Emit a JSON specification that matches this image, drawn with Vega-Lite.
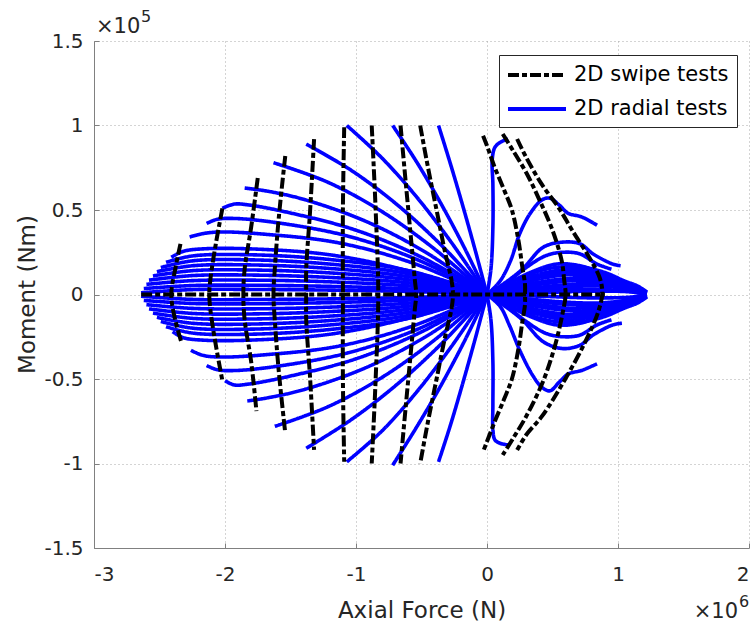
{
"$schema":"https://vega.github.io/schema/vega-lite/v6.json",
"width":655,"height":507,
"autosize":{"type":"none"},
"padding":{"left":94,"top":41,"right":3,"bottom":77},
"background":"white",
"config":{"view":{"stroke":null},"font":"DejaVu Sans"},
"data":{"values":[
{"s":"R","c":"a1","x":0,"y":0},{"s":"R","c":"a1","x":-0.0925,"y":0.269},{"s":"R","c":"a1","x":-0.185,"y":0.525},{"s":"R","c":"a1","x":-0.2775,"y":0.769},{"s":"R","c":"a1","x":-0.37,"y":1.0},
{"s":"R","c":"a2","x":0,"y":0},{"s":"R","c":"a2","x":-0.18,"y":0.288},{"s":"R","c":"a2","x":-0.36,"y":0.55},{"s":"R","c":"a2","x":-0.54,"y":0.788},{"s":"R","c":"a2","x":-0.72,"y":1.0},
{"s":"R","c":"a3","x":0,"y":0},{"s":"R","c":"a3","x":-0.27,"y":0.306},{"s":"R","c":"a3","x":-0.535,"y":0.575},{"s":"R","c":"a3","x":-0.8,"y":0.806},{"s":"R","c":"a3","x":-1.07,"y":1.0},
{"s":"R","c":"a4","x":0,"y":0},{"s":"R","c":"a4","x":-0.345,"y":0.289},{"s":"R","c":"a4","x":-0.69,"y":0.534},{"s":"R","c":"a4","x":-1.035,"y":0.734},{"s":"R","c":"a4","x":-1.38,"y":0.89},
{"s":"R","c":"a5","x":0,"y":0},{"s":"R","c":"a5","x":-0.41,"y":0.275},{"s":"R","c":"a5","x":-0.815,"y":0.497},{"s":"R","c":"a5","x":-1.22,"y":0.666},{"s":"R","c":"a5","x":-1.63,"y":0.78},
{"s":"R","c":"a6","x":0,"y":0},{"s":"R","c":"a6","x":-0.46,"y":0.246},{"s":"R","c":"a6","x":-0.925,"y":0.433},{"s":"R","c":"a6","x":-1.39,"y":0.561},{"s":"R","c":"a6","x":-1.665,"y":0.61},{"s":"R","c":"a6","x":-1.85,"y":0.63},
{"s":"R","c":"a7","x":0,"y":0},{"s":"R","c":"a7","x":-0.505,"y":0.223},{"s":"R","c":"a7","x":-1.01,"y":0.383},{"s":"R","c":"a7","x":-1.515,"y":0.485},{"s":"R","c":"a7","x":-1.82,"y":0.53},{"s":"R","c":"a7","x":-1.93,"y":0.535},{"s":"R","c":"a7","x":-2.02,"y":0.51},
{"s":"R","c":"a8","x":0,"y":0},{"s":"R","c":"a8","x":-0.535,"y":0.207},{"s":"R","c":"a8","x":-1.07,"y":0.347},{"s":"R","c":"a8","x":-1.605,"y":0.425},{"s":"R","c":"a8","x":-1.93,"y":0.45},{"s":"R","c":"a8","x":-2.06,"y":0.445},{"s":"R","c":"a8","x":-2.14,"y":0.42},
{"s":"R","c":"a9","x":0,"y":0},{"s":"R","c":"a9","x":-0.57,"y":0.187},{"s":"R","c":"a9","x":-1.135,"y":0.306},{"s":"R","c":"a9","x":-1.7,"y":0.357},{"s":"R","c":"a9","x":-2.04,"y":0.37},{"s":"R","c":"a9","x":-2.17,"y":0.36},{"s":"R","c":"a9","x":-2.27,"y":0.34},
{"s":"R","c":"a10","x":0,"y":0},{"s":"R","c":"a10","x":-0.6,"y":0.14},{"s":"R","c":"a10","x":-1.2,"y":0.235},{"s":"R","c":"a10","x":-1.81,"y":0.27},{"s":"R","c":"a10","x":-2.17,"y":0.27},{"s":"R","c":"a10","x":-2.32,"y":0.255},{"s":"R","c":"a10","x":-2.41,"y":0.22},
{"s":"R","c":"a11","x":0,"y":0},{"s":"R","c":"a11","x":-0.6,"y":0.141},{"s":"R","c":"a11","x":-1.2,"y":0.207},{"s":"R","c":"a11","x":-1.8,"y":0.235},{"s":"R","c":"a11","x":-2.25,"y":0.228},{"s":"R","c":"a11","x":-2.45,"y":0.19},
{"s":"R","c":"a12","x":0,"y":0},{"s":"R","c":"a12","x":-0.6,"y":0.123},{"s":"R","c":"a12","x":-1.2,"y":0.18},{"s":"R","c":"a12","x":-1.8,"y":0.205},{"s":"R","c":"a12","x":-2.25,"y":0.199},{"s":"R","c":"a12","x":-2.49,"y":0.16},
{"s":"R","c":"a13","x":0,"y":0},{"s":"R","c":"a13","x":-0.6,"y":0.105},{"s":"R","c":"a13","x":-1.2,"y":0.154},{"s":"R","c":"a13","x":-1.8,"y":0.175},{"s":"R","c":"a13","x":-2.25,"y":0.17},{"s":"R","c":"a13","x":-2.52,"y":0.135},
{"s":"R","c":"a14","x":0,"y":0},{"s":"R","c":"a14","x":-0.6,"y":0.087},{"s":"R","c":"a14","x":-1.2,"y":0.128},{"s":"R","c":"a14","x":-1.8,"y":0.145},{"s":"R","c":"a14","x":-2.25,"y":0.141},{"s":"R","c":"a14","x":-2.55,"y":0.11},
{"s":"R","c":"a15","x":0,"y":0},{"s":"R","c":"a15","x":-0.6,"y":0.069},{"s":"R","c":"a15","x":-1.2,"y":0.101},{"s":"R","c":"a15","x":-1.8,"y":0.115},{"s":"R","c":"a15","x":-2.25,"y":0.112},{"s":"R","c":"a15","x":-2.58,"y":0.085},
{"s":"R","c":"a16","x":0,"y":0},{"s":"R","c":"a16","x":-0.6,"y":0.051},{"s":"R","c":"a16","x":-1.2,"y":0.075},{"s":"R","c":"a16","x":-1.8,"y":0.085},{"s":"R","c":"a16","x":-2.25,"y":0.082},{"s":"R","c":"a16","x":-2.6,"y":0.06},
{"s":"R","c":"a17","x":0,"y":0},{"s":"R","c":"a17","x":-0.6,"y":0.033},{"s":"R","c":"a17","x":-1.2,"y":0.048},{"s":"R","c":"a17","x":-1.8,"y":0.055},{"s":"R","c":"a17","x":-2.25,"y":0.053},{"s":"R","c":"a17","x":-2.62,"y":0.035},
{"s":"R","c":"a18","x":0,"y":0},{"s":"R","c":"a18","x":-0.6,"y":0.018},{"s":"R","c":"a18","x":-1.2,"y":0.026},{"s":"R","c":"a18","x":-1.8,"y":0.03},{"s":"R","c":"a18","x":-2.25,"y":0.029},{"s":"R","c":"a18","x":-2.64,"y":0.01},
{"s":"R","c":"b1","x":0,"y":0},{"s":"R","c":"b1","x":-0.0925,"y":-0.269},{"s":"R","c":"b1","x":-0.185,"y":-0.525},{"s":"R","c":"b1","x":-0.2775,"y":-0.769},{"s":"R","c":"b1","x":-0.37,"y":-0.99},
{"s":"R","c":"b2","x":0,"y":0},{"s":"R","c":"b2","x":-0.18,"y":-0.288},{"s":"R","c":"b2","x":-0.36,"y":-0.55},{"s":"R","c":"b2","x":-0.54,"y":-0.788},{"s":"R","c":"b2","x":-0.72,"y":-1.01},
{"s":"R","c":"b3","x":0,"y":0},{"s":"R","c":"b3","x":-0.27,"y":-0.306},{"s":"R","c":"b3","x":-0.535,"y":-0.575},{"s":"R","c":"b3","x":-0.8,"y":-0.806},{"s":"R","c":"b3","x":-1.07,"y":-0.99},
{"s":"R","c":"b4","x":0,"y":0},{"s":"R","c":"b4","x":-0.345,"y":-0.289},{"s":"R","c":"b4","x":-0.69,"y":-0.534},{"s":"R","c":"b4","x":-1.035,"y":-0.74},{"s":"R","c":"b4","x":-1.38,"y":-0.91},
{"s":"R","c":"b5","x":0,"y":0},{"s":"R","c":"b5","x":-0.41,"y":-0.275},{"s":"R","c":"b5","x":-0.815,"y":-0.497},{"s":"R","c":"b5","x":-1.22,"y":-0.666},{"s":"R","c":"b5","x":-1.62,"y":-0.78},
{"s":"R","c":"b6","x":0,"y":0},{"s":"R","c":"b6","x":-0.46,"y":-0.246},{"s":"R","c":"b6","x":-0.925,"y":-0.433},{"s":"R","c":"b6","x":-1.39,"y":-0.561},{"s":"R","c":"b6","x":-1.665,"y":-0.61},{"s":"R","c":"b6","x":-1.83,"y":-0.63},
{"s":"R","c":"b7","x":0,"y":0},{"s":"R","c":"b7","x":-0.505,"y":-0.223},{"s":"R","c":"b7","x":-1.01,"y":-0.383},{"s":"R","c":"b7","x":-1.515,"y":-0.485},{"s":"R","c":"b7","x":-1.82,"y":-0.53},{"s":"R","c":"b7","x":-1.93,"y":-0.535},{"s":"R","c":"b7","x":-2.0,"y":-0.51},
{"s":"R","c":"b8","x":0,"y":0},{"s":"R","c":"b8","x":-0.535,"y":-0.207},{"s":"R","c":"b8","x":-1.07,"y":-0.347},{"s":"R","c":"b8","x":-1.605,"y":-0.425},{"s":"R","c":"b8","x":-1.93,"y":-0.45},{"s":"R","c":"b8","x":-2.06,"y":-0.445},{"s":"R","c":"b8","x":-2.14,"y":-0.42},
{"s":"R","c":"b9","x":0,"y":0},{"s":"R","c":"b9","x":-0.57,"y":-0.187},{"s":"R","c":"b9","x":-1.135,"y":-0.306},{"s":"R","c":"b9","x":-1.7,"y":-0.357},{"s":"R","c":"b9","x":-2.04,"y":-0.37},{"s":"R","c":"b9","x":-2.17,"y":-0.36},{"s":"R","c":"b9","x":-2.26,"y":-0.33},
{"s":"R","c":"b10","x":0,"y":0},{"s":"R","c":"b10","x":-0.6,"y":-0.14},{"s":"R","c":"b10","x":-1.2,"y":-0.235},{"s":"R","c":"b10","x":-1.81,"y":-0.27},{"s":"R","c":"b10","x":-2.17,"y":-0.27},{"s":"R","c":"b10","x":-2.32,"y":-0.255},{"s":"R","c":"b10","x":-2.4,"y":-0.22},
{"s":"R","c":"b11","x":0,"y":0},{"s":"R","c":"b11","x":-0.6,"y":-0.141},{"s":"R","c":"b11","x":-1.2,"y":-0.207},{"s":"R","c":"b11","x":-1.8,"y":-0.235},{"s":"R","c":"b11","x":-2.25,"y":-0.228},{"s":"R","c":"b11","x":-2.45,"y":-0.19},
{"s":"R","c":"b12","x":0,"y":0},{"s":"R","c":"b12","x":-0.6,"y":-0.123},{"s":"R","c":"b12","x":-1.2,"y":-0.18},{"s":"R","c":"b12","x":-1.8,"y":-0.205},{"s":"R","c":"b12","x":-2.25,"y":-0.199},{"s":"R","c":"b12","x":-2.49,"y":-0.16},
{"s":"R","c":"b13","x":0,"y":0},{"s":"R","c":"b13","x":-0.6,"y":-0.105},{"s":"R","c":"b13","x":-1.2,"y":-0.154},{"s":"R","c":"b13","x":-1.8,"y":-0.175},{"s":"R","c":"b13","x":-2.25,"y":-0.17},{"s":"R","c":"b13","x":-2.52,"y":-0.135},
{"s":"R","c":"b14","x":0,"y":0},{"s":"R","c":"b14","x":-0.6,"y":-0.087},{"s":"R","c":"b14","x":-1.2,"y":-0.128},{"s":"R","c":"b14","x":-1.8,"y":-0.145},{"s":"R","c":"b14","x":-2.25,"y":-0.141},{"s":"R","c":"b14","x":-2.55,"y":-0.11},
{"s":"R","c":"b15","x":0,"y":0},{"s":"R","c":"b15","x":-0.6,"y":-0.069},{"s":"R","c":"b15","x":-1.2,"y":-0.101},{"s":"R","c":"b15","x":-1.8,"y":-0.115},{"s":"R","c":"b15","x":-2.25,"y":-0.112},{"s":"R","c":"b15","x":-2.58,"y":-0.085},
{"s":"R","c":"b16","x":0,"y":0},{"s":"R","c":"b16","x":-0.6,"y":-0.051},{"s":"R","c":"b16","x":-1.2,"y":-0.075},{"s":"R","c":"b16","x":-1.8,"y":-0.085},{"s":"R","c":"b16","x":-2.25,"y":-0.082},{"s":"R","c":"b16","x":-2.6,"y":-0.06},
{"s":"R","c":"b17","x":0,"y":0},{"s":"R","c":"b17","x":-0.6,"y":-0.033},{"s":"R","c":"b17","x":-1.2,"y":-0.048},{"s":"R","c":"b17","x":-1.8,"y":-0.055},{"s":"R","c":"b17","x":-2.25,"y":-0.053},{"s":"R","c":"b17","x":-2.62,"y":-0.035},
{"s":"R","c":"b18","x":0,"y":0},{"s":"R","c":"b18","x":-0.6,"y":-0.018},{"s":"R","c":"b18","x":-1.2,"y":-0.026},{"s":"R","c":"b18","x":-1.8,"y":-0.03},{"s":"R","c":"b18","x":-2.25,"y":-0.029},{"s":"R","c":"b18","x":-2.64,"y":-0.01},
{"s":"R","c":"c1","x":0,"y":0},{"s":"R","c":"c1","x":0.03,"y":0.15},{"s":"R","c":"c1","x":0.045,"y":0.4},{"s":"R","c":"c1","x":0.045,"y":0.65},{"s":"R","c":"c1","x":0.04,"y":0.8},{"s":"R","c":"c1","x":0.06,"y":0.87},{"s":"R","c":"c1","x":0.1,"y":0.9},{"s":"R","c":"c1","x":0.16,"y":0.92},
{"s":"R","c":"c2","x":0,"y":0},{"s":"R","c":"c2","x":0.1,"y":0.08},{"s":"R","c":"c2","x":0.18,"y":0.2},{"s":"R","c":"c2","x":0.25,"y":0.36},{"s":"R","c":"c2","x":0.33,"y":0.48},{"s":"R","c":"c2","x":0.42,"y":0.56},{"s":"R","c":"c2","x":0.48,"y":0.57},{"s":"R","c":"c2","x":0.55,"y":0.53},{"s":"R","c":"c2","x":0.62,"y":0.48},{"s":"R","c":"c2","x":0.72,"y":0.46},{"s":"R","c":"c2","x":0.84,"y":0.41},
{"s":"R","c":"c3","x":0,"y":0},{"s":"R","c":"c3","x":0.12,"y":0.06},{"s":"R","c":"c3","x":0.27,"y":0.15},{"s":"R","c":"c3","x":0.43,"y":0.28},{"s":"R","c":"c3","x":0.58,"y":0.31},{"s":"R","c":"c3","x":0.71,"y":0.3},{"s":"R","c":"c3","x":0.81,"y":0.24},{"s":"R","c":"c3","x":0.96,"y":0.18},{"s":"R","c":"c3","x":1.02,"y":0.17},
{"s":"R","c":"c4","x":0,"y":0},{"s":"R","c":"c4","x":0.15,"y":0.07},{"s":"R","c":"c4","x":0.3,"y":0.16},{"s":"R","c":"c4","x":0.45,"y":0.23},{"s":"R","c":"c4","x":0.58,"y":0.25},{"s":"R","c":"c4","x":0.71,"y":0.24},{"s":"R","c":"c4","x":0.84,"y":0.18},{"s":"R","c":"c4","x":0.95,"y":0.15},
{"s":"R","c":"c5","x":0,"y":0},{"s":"R","c":"c5","x":0.15,"y":0.06},{"s":"R","c":"c5","x":0.33,"y":0.13},{"s":"R","c":"c5","x":0.53,"y":0.18},{"s":"R","c":"c5","x":0.71,"y":0.17},{"s":"R","c":"c5","x":0.86,"y":0.13},{"s":"R","c":"c5","x":1.0,"y":0.09},{"s":"R","c":"c5","x":1.1,"y":0.06},
{"s":"R","c":"c6","x":0,"y":0},{"s":"R","c":"c6","x":0.2,"y":0.07},{"s":"R","c":"c6","x":0.45,"y":0.13},{"s":"R","c":"c6","x":0.7,"y":0.15},{"s":"R","c":"c6","x":0.9,"y":0.11},{"s":"R","c":"c6","x":1.05,"y":0.07},{"s":"R","c":"c6","x":1.15,"y":0.04},{"s":"R","c":"c6","x":1.22,"y":0.01},
{"s":"R","c":"c7","x":0,"y":0},{"s":"R","c":"c7","x":0.2,"y":0.05},{"s":"R","c":"c7","x":0.45,"y":0.1},{"s":"R","c":"c7","x":0.7,"y":0.12},{"s":"R","c":"c7","x":0.9,"y":0.09},{"s":"R","c":"c7","x":1.05,"y":0.06},{"s":"R","c":"c7","x":1.2,"y":0.02},
{"s":"R","c":"c8","x":0,"y":0},{"s":"R","c":"c8","x":0.25,"y":0.04},{"s":"R","c":"c8","x":0.5,"y":0.07},{"s":"R","c":"c8","x":0.75,"y":0.085},{"s":"R","c":"c8","x":0.95,"y":0.065},{"s":"R","c":"c8","x":1.1,"y":0.04},{"s":"R","c":"c8","x":1.22,"y":0.01},
{"s":"R","c":"c9","x":0,"y":0},{"s":"R","c":"c9","x":0.3,"y":0.025},{"s":"R","c":"c9","x":0.6,"y":0.045},{"s":"R","c":"c9","x":0.85,"y":0.05},{"s":"R","c":"c9","x":1.05,"y":0.035},{"s":"R","c":"c9","x":1.2,"y":0.01},
{"s":"R","c":"c10","x":0,"y":0},{"s":"R","c":"c10","x":0.4,"y":0.01},{"s":"R","c":"c10","x":0.8,"y":0.02},{"s":"R","c":"c10","x":1.1,"y":0.015},{"s":"R","c":"c10","x":1.22,"y":0},
{"s":"R","c":"c11","x":0,"y":0},{"s":"R","c":"c11","x":0.2,"y":0.08},{"s":"R","c":"c11","x":0.45,"y":0.15},{"s":"R","c":"c11","x":0.7,"y":0.165},{"s":"R","c":"c11","x":0.9,"y":0.13},{"s":"R","c":"c11","x":1.05,"y":0.08},{"s":"R","c":"c11","x":1.15,"y":0.05},{"s":"R","c":"c11","x":1.22,"y":0.015},
{"s":"R","c":"c12","x":0,"y":0},{"s":"R","c":"c12","x":0.2,"y":0.06},{"s":"R","c":"c12","x":0.45,"y":0.115},{"s":"R","c":"c12","x":0.7,"y":0.135},{"s":"R","c":"c12","x":0.9,"y":0.1},{"s":"R","c":"c12","x":1.05,"y":0.065},{"s":"R","c":"c12","x":1.2,"y":0.025},
{"s":"R","c":"c13","x":0,"y":0},{"s":"R","c":"c13","x":0.22,"y":0.045},{"s":"R","c":"c13","x":0.5,"y":0.085},{"s":"R","c":"c13","x":0.75,"y":0.1},{"s":"R","c":"c13","x":0.95,"y":0.08},{"s":"R","c":"c13","x":1.1,"y":0.05},{"s":"R","c":"c13","x":1.22,"y":0.015},
{"s":"R","c":"c14","x":0,"y":0},{"s":"R","c":"c14","x":0.28,"y":0.03},{"s":"R","c":"c14","x":0.55,"y":0.055},{"s":"R","c":"c14","x":0.8,"y":0.065},{"s":"R","c":"c14","x":1.0,"y":0.05},{"s":"R","c":"c14","x":1.15,"y":0.025},{"s":"R","c":"c14","x":1.22,"y":0.005},
{"s":"R","c":"c15","x":0,"y":0},{"s":"R","c":"c15","x":0.35,"y":0.015},{"s":"R","c":"c15","x":0.7,"y":0.03},{"s":"R","c":"c15","x":1.0,"y":0.025},{"s":"R","c":"c15","x":1.2,"y":0.008},
{"s":"R","c":"d1","x":0,"y":0},{"s":"R","c":"d1","x":0.03,"y":-0.15},{"s":"R","c":"d1","x":0.045,"y":-0.4},{"s":"R","c":"d1","x":0.045,"y":-0.65},{"s":"R","c":"d1","x":0.045,"y":-0.8},{"s":"R","c":"d1","x":0.06,"y":-0.86},{"s":"R","c":"d1","x":0.1,"y":-0.88},{"s":"R","c":"d1","x":0.16,"y":-0.89},
{"s":"R","c":"d2","x":0,"y":0},{"s":"R","c":"d2","x":0.1,"y":-0.07},{"s":"R","c":"d2","x":0.17,"y":-0.18},{"s":"R","c":"d2","x":0.25,"y":-0.33},{"s":"R","c":"d2","x":0.35,"y":-0.48},{"s":"R","c":"d2","x":0.42,"y":-0.55},{"s":"R","c":"d2","x":0.48,"y":-0.57},{"s":"R","c":"d2","x":0.55,"y":-0.52},{"s":"R","c":"d2","x":0.62,"y":-0.47},{"s":"R","c":"d2","x":0.72,"y":-0.45},{"s":"R","c":"d2","x":0.84,"y":-0.41},
{"s":"R","c":"d3","x":0,"y":0},{"s":"R","c":"d3","x":0.12,"y":-0.06},{"s":"R","c":"d3","x":0.27,"y":-0.15},{"s":"R","c":"d3","x":0.43,"y":-0.28},{"s":"R","c":"d3","x":0.58,"y":-0.32},{"s":"R","c":"d3","x":0.71,"y":-0.3},{"s":"R","c":"d3","x":0.81,"y":-0.24},{"s":"R","c":"d3","x":0.96,"y":-0.18},{"s":"R","c":"d3","x":1.03,"y":-0.17},
{"s":"R","c":"d4","x":0,"y":0},{"s":"R","c":"d4","x":0.15,"y":-0.07},{"s":"R","c":"d4","x":0.3,"y":-0.16},{"s":"R","c":"d4","x":0.45,"y":-0.23},{"s":"R","c":"d4","x":0.58,"y":-0.25},{"s":"R","c":"d4","x":0.71,"y":-0.24},{"s":"R","c":"d4","x":0.84,"y":-0.18},{"s":"R","c":"d4","x":0.95,"y":-0.15},
{"s":"R","c":"d5","x":0,"y":0},{"s":"R","c":"d5","x":0.15,"y":-0.06},{"s":"R","c":"d5","x":0.33,"y":-0.13},{"s":"R","c":"d5","x":0.53,"y":-0.18},{"s":"R","c":"d5","x":0.71,"y":-0.17},{"s":"R","c":"d5","x":0.86,"y":-0.13},{"s":"R","c":"d5","x":1.0,"y":-0.09},{"s":"R","c":"d5","x":1.1,"y":-0.06},
{"s":"R","c":"d6","x":0,"y":0},{"s":"R","c":"d6","x":0.2,"y":-0.07},{"s":"R","c":"d6","x":0.45,"y":-0.13},{"s":"R","c":"d6","x":0.7,"y":-0.15},{"s":"R","c":"d6","x":0.9,"y":-0.11},{"s":"R","c":"d6","x":1.05,"y":-0.07},{"s":"R","c":"d6","x":1.15,"y":-0.04},{"s":"R","c":"d6","x":1.22,"y":-0.01},
{"s":"R","c":"d7","x":0,"y":0},{"s":"R","c":"d7","x":0.2,"y":-0.05},{"s":"R","c":"d7","x":0.45,"y":-0.1},{"s":"R","c":"d7","x":0.7,"y":-0.12},{"s":"R","c":"d7","x":0.9,"y":-0.09},{"s":"R","c":"d7","x":1.05,"y":-0.06},{"s":"R","c":"d7","x":1.2,"y":-0.02},
{"s":"R","c":"d8","x":0,"y":0},{"s":"R","c":"d8","x":0.25,"y":-0.04},{"s":"R","c":"d8","x":0.5,"y":-0.07},{"s":"R","c":"d8","x":0.75,"y":-0.085},{"s":"R","c":"d8","x":0.95,"y":-0.065},{"s":"R","c":"d8","x":1.1,"y":-0.04},{"s":"R","c":"d8","x":1.22,"y":-0.01},
{"s":"R","c":"d9","x":0,"y":0},{"s":"R","c":"d9","x":0.3,"y":-0.025},{"s":"R","c":"d9","x":0.6,"y":-0.045},{"s":"R","c":"d9","x":0.85,"y":-0.05},{"s":"R","c":"d9","x":1.05,"y":-0.035},{"s":"R","c":"d9","x":1.2,"y":-0.01},
{"s":"R","c":"d10","x":0,"y":0},{"s":"R","c":"d10","x":0.4,"y":-0.01},{"s":"R","c":"d10","x":0.8,"y":-0.02},{"s":"R","c":"d10","x":1.1,"y":-0.015},{"s":"R","c":"d10","x":1.22,"y":0},
{"s":"R","c":"d11","x":0,"y":0},{"s":"R","c":"d11","x":0.2,"y":-0.08},{"s":"R","c":"d11","x":0.45,"y":-0.15},{"s":"R","c":"d11","x":0.7,"y":-0.165},{"s":"R","c":"d11","x":0.9,"y":-0.13},{"s":"R","c":"d11","x":1.05,"y":-0.08},{"s":"R","c":"d11","x":1.15,"y":-0.05},{"s":"R","c":"d11","x":1.22,"y":-0.015},
{"s":"R","c":"d12","x":0,"y":0},{"s":"R","c":"d12","x":0.2,"y":-0.06},{"s":"R","c":"d12","x":0.45,"y":-0.115},{"s":"R","c":"d12","x":0.7,"y":-0.135},{"s":"R","c":"d12","x":0.9,"y":-0.1},{"s":"R","c":"d12","x":1.05,"y":-0.065},{"s":"R","c":"d12","x":1.2,"y":-0.025},
{"s":"R","c":"d13","x":0,"y":0},{"s":"R","c":"d13","x":0.22,"y":-0.045},{"s":"R","c":"d13","x":0.5,"y":-0.085},{"s":"R","c":"d13","x":0.75,"y":-0.1},{"s":"R","c":"d13","x":0.95,"y":-0.08},{"s":"R","c":"d13","x":1.1,"y":-0.05},{"s":"R","c":"d13","x":1.22,"y":-0.015},
{"s":"R","c":"d14","x":0,"y":0},{"s":"R","c":"d14","x":0.28,"y":-0.03},{"s":"R","c":"d14","x":0.55,"y":-0.055},{"s":"R","c":"d14","x":0.8,"y":-0.065},{"s":"R","c":"d14","x":1.0,"y":-0.05},{"s":"R","c":"d14","x":1.15,"y":-0.025},{"s":"R","c":"d14","x":1.22,"y":-0.005},
{"s":"S","c":"s1","x":-2.34,"y":0.3},{"s":"S","c":"s1","x":-2.38,"y":0.15},{"s":"S","c":"s1","x":-2.41,"y":0},{"s":"S","c":"s1","x":-2.38,"y":-0.15},{"s":"S","c":"s1","x":-2.33,"y":-0.29},
{"s":"S","c":"s2","x":-2.02,"y":0.51},{"s":"S","c":"s2","x":-2.07,"y":0.3},{"s":"S","c":"s2","x":-2.11,"y":0.1},{"s":"S","c":"s2","x":-2.12,"y":0},{"s":"S","c":"s2","x":-2.11,"y":-0.1},{"s":"S","c":"s2","x":-2.07,"y":-0.3},{"s":"S","c":"s2","x":-2.02,"y":-0.51},
{"s":"S","c":"s3","x":-1.75,"y":0.69},{"s":"S","c":"s3","x":-1.8,"y":0.4},{"s":"S","c":"s3","x":-1.85,"y":0.15},{"s":"S","c":"s3","x":-1.86,"y":0},{"s":"S","c":"s3","x":-1.85,"y":-0.15},{"s":"S","c":"s3","x":-1.8,"y":-0.4},{"s":"S","c":"s3","x":-1.76,"y":-0.69},
{"s":"S","c":"s4","x":-1.54,"y":0.82},{"s":"S","c":"s4","x":-1.59,"y":0.45},{"s":"S","c":"s4","x":-1.62,"y":0.15},{"s":"S","c":"s4","x":-1.63,"y":0},{"s":"S","c":"s4","x":-1.62,"y":-0.15},{"s":"S","c":"s4","x":-1.59,"y":-0.45},{"s":"S","c":"s4","x":-1.54,"y":-0.82},
{"s":"S","c":"s5","x":-1.32,"y":0.92},{"s":"S","c":"s5","x":-1.35,"y":0.5},{"s":"S","c":"s5","x":-1.38,"y":0.15},{"s":"S","c":"s5","x":-1.38,"y":0},{"s":"S","c":"s5","x":-1.38,"y":-0.15},{"s":"S","c":"s5","x":-1.35,"y":-0.5},{"s":"S","c":"s5","x":-1.32,"y":-0.92},
{"s":"S","c":"s6","x":-1.09,"y":0.99},{"s":"S","c":"s6","x":-1.1,"y":0.5},{"s":"S","c":"s6","x":-1.1,"y":0},{"s":"S","c":"s6","x":-1.1,"y":-0.5},{"s":"S","c":"s6","x":-1.09,"y":-0.99},
{"s":"S","c":"s7","x":-0.88,"y":1.0},{"s":"S","c":"s7","x":-0.85,"y":0.5},{"s":"S","c":"s7","x":-0.83,"y":0},{"s":"S","c":"s7","x":-0.85,"y":-0.5},{"s":"S","c":"s7","x":-0.88,"y":-1.0},
{"s":"S","c":"s8","x":-0.66,"y":1.0},{"s":"S","c":"s8","x":-0.62,"y":0.66},{"s":"S","c":"s8","x":-0.58,"y":0.33},{"s":"S","c":"s8","x":-0.55,"y":0.08},{"s":"S","c":"s8","x":-0.54,"y":0},{"s":"S","c":"s8","x":-0.55,"y":-0.08},{"s":"S","c":"s8","x":-0.58,"y":-0.33},{"s":"S","c":"s8","x":-0.62,"y":-0.66},{"s":"S","c":"s8","x":-0.66,"y":-1.0},
{"s":"S","c":"s9","x":-0.51,"y":1.0},{"s":"S","c":"s9","x":-0.45,"y":0.75},{"s":"S","c":"s9","x":-0.385,"y":0.5},{"s":"S","c":"s9","x":-0.32,"y":0.25},{"s":"S","c":"s9","x":-0.27,"y":0.08},{"s":"S","c":"s9","x":-0.26,"y":0},{"s":"S","c":"s9","x":-0.27,"y":-0.08},{"s":"S","c":"s9","x":-0.32,"y":-0.25},{"s":"S","c":"s9","x":-0.385,"y":-0.5},{"s":"S","c":"s9","x":-0.45,"y":-0.75},{"s":"S","c":"s9","x":-0.51,"y":-1.0},
{"s":"S","c":"s10","x":-0.03,"y":0.94},{"s":"S","c":"s10","x":0.0,"y":0.88},{"s":"S","c":"s10","x":0.06,"y":0.75},{"s":"S","c":"s10","x":0.13,"y":0.62},{"s":"S","c":"s10","x":0.19,"y":0.5},{"s":"S","c":"s10","x":0.24,"y":0.32},{"s":"S","c":"s10","x":0.27,"y":0.16},{"s":"S","c":"s10","x":0.29,"y":0.06},{"s":"S","c":"s10","x":0.29,"y":0},{"s":"S","c":"s10","x":0.29,"y":-0.06},{"s":"S","c":"s10","x":0.27,"y":-0.16},{"s":"S","c":"s10","x":0.24,"y":-0.32},{"s":"S","c":"s10","x":0.19,"y":-0.5},{"s":"S","c":"s10","x":0.13,"y":-0.62},{"s":"S","c":"s10","x":0.06,"y":-0.75},{"s":"S","c":"s10","x":0.0,"y":-0.87},{"s":"S","c":"s10","x":-0.03,"y":-0.93},
{"s":"S","c":"s11","x":0.12,"y":0.95},{"s":"S","c":"s11","x":0.2,"y":0.85},{"s":"S","c":"s11","x":0.3,"y":0.72},{"s":"S","c":"s11","x":0.4,"y":0.56},{"s":"S","c":"s11","x":0.5,"y":0.38},{"s":"S","c":"s11","x":0.57,"y":0.2},{"s":"S","c":"s11","x":0.59,"y":0.08},{"s":"S","c":"s11","x":0.6,"y":0},{"s":"S","c":"s11","x":0.58,"y":-0.1},{"s":"S","c":"s11","x":0.52,"y":-0.3},{"s":"S","c":"s11","x":0.43,"y":-0.51},{"s":"S","c":"s11","x":0.3,"y":-0.72},{"s":"S","c":"s11","x":0.2,"y":-0.85},{"s":"S","c":"s11","x":0.12,"y":-0.95},
{"s":"S","c":"s12","x":0.23,"y":0.92},{"s":"S","c":"s12","x":0.3,"y":0.81},{"s":"S","c":"s12","x":0.42,"y":0.65},{"s":"S","c":"s12","x":0.55,"y":0.51},{"s":"S","c":"s12","x":0.65,"y":0.38},{"s":"S","c":"s12","x":0.78,"y":0.22},{"s":"S","c":"s12","x":0.86,"y":0.1},{"s":"S","c":"s12","x":0.88,"y":0.01},{"s":"S","c":"s12","x":0.85,"y":-0.1},{"s":"S","c":"s12","x":0.75,"y":-0.28},{"s":"S","c":"s12","x":0.59,"y":-0.51},{"s":"S","c":"s12","x":0.42,"y":-0.72},{"s":"S","c":"s12","x":0.3,"y":-0.83},{"s":"S","c":"s12","x":0.23,"y":-0.92},
{"s":"S","c":"s13","x":-2.64,"y":0},{"s":"S","c":"s13","x":0.9,"y":0}
]},
"encoding":{
 "x":{"field":"x","type":"quantitative","scale":{"domain":[-3,2],"nice":false,"zero":false},
  "axis":{"title":"Axial Force (N)","values":[-3,-2,-1,0,1,2],"format":"d","labelExpr":"replace(datum.label,'−','-')","grid":true,"gridDash":[1,3],"gridColor":"#a8a8a8","domainColor":"#808080","tickColor":"#808080","tickSize":-5,"labelPadding":21,"labelFontSize":20,"labelFont":"DejaVu Sans","labelColor":"#262626","titleFont":"DejaVu Sans","titleFontSize":23,"titleFontWeight":"normal","titleColor":"#262626","titleY":69,"titleBaseline":"alphabetic"}},
 "y":{"field":"y","type":"quantitative","scale":{"domain":[-1.5,1.5],"nice":false,"zero":false},
  "axis":{"title":"Moment (Nm)","values":[-1.5,-1,-0.5,0,0.5,1,1.5],"format":"~g","labelExpr":"replace(datum.label,'−','-')","grid":true,"gridDash":[1,3],"gridColor":"#a8a8a8","domainColor":"#808080","tickColor":"#808080","tickSize":-5,"labelPadding":16,"labelFontSize":20,"labelFont":"DejaVu Sans","labelColor":"#262626","titleFont":"DejaVu Sans","titleFontSize":23,"titleFontWeight":"normal","titleColor":"#262626","titleX":-60,"titleY":253,"titleAlign":"center","titleBaseline":"alphabetic"}}
},
"layer":[
 {"transform":[{"window":[{"op":"row_number","as":"k"}]},{"filter":"datum.s=='R'"}],
  "mark":{"type":"line","strokeWidth":3.6,"interpolate":"catmull-rom","clip":true},
  "encoding":{"detail":{"field":"c"},"order":{"field":"k","type":"quantitative"},
   "color":{"field":"s","type":"nominal","scale":{"domain":["S","R"],"range":["#000000","#0000ff"]},
    "legend":{"orient":"none","legendX":405,"legendY":14,"title":null,"labelExpr":"datum.label=='S'?'2D swipe tests':'2D radial tests'","symbolType":"M-1.1,0H4.7","symbolSize":400,"symbolStrokeWidth":4,"labelFontSize":21,"labelFont":"DejaVu Sans","labelColor":"#000000","labelOffset":43,"labelLimit":300,"strokeColor":"#262626","fillColor":"#ffffff","padding":8,"rowPadding":12}},
   "strokeDash":{"field":"s","type":"nominal","scale":{"domain":["S","R"],"range":[[11,3,5,3],[1,0]]},
    "legend":{"orient":"none","legendX":405,"legendY":14,"title":null,"labelExpr":"datum.label=='S'?'2D swipe tests':'2D radial tests'","symbolType":"M-1.1,0H4.7","symbolSize":400,"symbolStrokeWidth":4,"labelFontSize":21,"labelFont":"DejaVu Sans","labelColor":"#000000","labelOffset":43,"labelLimit":300,"strokeColor":"#262626","fillColor":"#ffffff","padding":8,"rowPadding":12}}}},
 {"transform":[{"window":[{"op":"row_number","as":"k"}]},{"filter":"datum.s=='S'"}],
  "mark":{"type":"line","strokeWidth":4,"interpolate":"catmull-rom","clip":true},
  "encoding":{"detail":{"field":"c"},"order":{"field":"k","type":"quantitative"},
   "color":{"field":"s","type":"nominal","scale":{"domain":["S","R"],"range":["#000000","#0000ff"]}},
   "strokeDash":{"field":"s","type":"nominal","scale":{"domain":["S","R"],"range":[[11,3,5,3],[1,0]]}}}},
 {"data":{"values":[{"x":-3,"y":1.5}]},"mark":{"type":"text","text":"×10","align":"left","baseline":"alphabetic","dx":2,"dy":-8,"fontSize":21,"font":"DejaVu Sans","color":"#262626"}},
 {"data":{"values":[{"x":-3,"y":1.5}]},"mark":{"type":"text","text":"5","align":"left","baseline":"alphabetic","dx":47,"dy":-19,"fontSize":16,"font":"DejaVu Sans","color":"#262626"}},
 {"data":{"values":[{"x":2,"y":-1.5}]},"mark":{"type":"text","text":"×10","align":"right","baseline":"alphabetic","dx":-11,"dy":70,"fontSize":21,"font":"DejaVu Sans","color":"#262626"}},
 {"data":{"values":[{"x":2,"y":-1.5}]},"mark":{"type":"text","text":"6","align":"left","baseline":"alphabetic","dx":-10,"dy":59,"fontSize":16,"font":"DejaVu Sans","color":"#262626"}}
]
}
